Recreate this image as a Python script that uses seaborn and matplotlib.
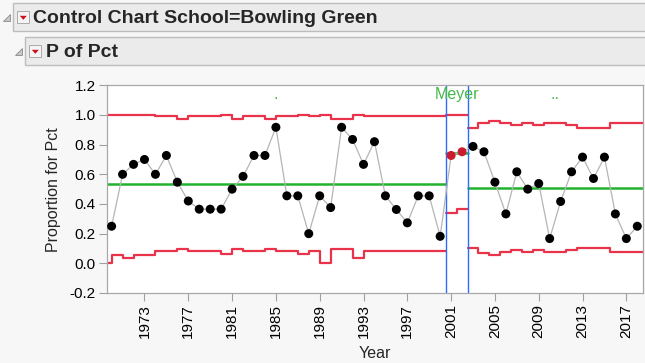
import matplotlib
matplotlib.use("Agg")
import matplotlib.pyplot as plt
from matplotlib.patches import Rectangle, Polygon
import pandas as pd
import seaborn as sns

# data
years = list(range(1970, 2019))
pct = [0.25, 0.60, 0.667, 0.70, 0.60, 0.727, 0.547, 0.42, 0.365, 0.365, 0.365, 0.50, 0.586, 0.727,
       0.727, 0.917, 0.455, 0.455, 0.20, 0.455, 0.376, 0.917, 0.835, 0.667, 0.82, 0.455, 0.363,
       0.273, 0.455, 0.455, 0.182,
       0.727, 0.752,
       0.788, 0.752, 0.547, 0.333, 0.617, 0.50, 0.538, 0.167, 0.417, 0.617, 0.716, 0.572, 0.716,
       0.333, 0.167, 0.25]
phase = ["."] * 31 + ["Meyer"] * 2 + [".."] * 16
phase_names = [".", "Meyer", ".."]
center = [0.536, 0.743, 0.509]

lcl = [0.0, 0.056, 0.035, 0.056, 0.056, 0.082, 0.082, 0.096, 0.082, 0.082, 0.082, 0.06, 0.096,
       0.082, 0.082, 0.096, 0.082, 0.082, 0.06, 0.082, 0.0, 0.096, 0.096, 0.038,
       0.082, 0.082, 0.082, 0.082, 0.082, 0.082, 0.082,
       0.34, 0.363,
       0.103, 0.072, 0.059, 0.076, 0.09, 0.076, 0.09, 0.076, 0.076, 0.09, 0.103, 0.103, 0.103,
       0.076, 0.076, 0.076]
ucl = [1.0, 1.0, 1.0, 1.0, 1.0, 0.99, 0.99, 0.975, 0.99, 0.99, 0.99, 1.0, 0.975,
       0.99, 0.99, 0.975, 0.99, 0.99, 1.0, 0.99, 1.0, 0.975, 0.975, 1.0,
       0.99, 0.99, 0.99, 0.99, 0.99, 0.99, 0.99,
       1.0, 1.0,
       0.914, 0.944, 0.96, 0.944, 0.93, 0.944, 0.93, 0.944, 0.944, 0.93, 0.914, 0.914, 0.914,
       0.944, 0.944, 0.944]
flagged = [2001, 2002]

df = pd.DataFrame({"Year": years, "Pct": pct, "phase": phase, "LCL": lcl, "UCL": ucl})

W, H = 645, 363
XMIN, XMAX = 1969.55, 2018.55
RED = "#E8334A"
GREEN = "#22B22E"
BLUE = "#2B6BFF"
BG = "#F7F7F7"

sns.set_style("white")
plt.rcParams["font.family"] = ["Liberation Sans", "DejaVu Sans"]

fig = plt.figure(figsize=(W / 100, H / 100), dpi=100, facecolor=BG)
ax = fig.add_axes([106.7 / W, 1 - 293 / H, (643.3 - 106.7) / W, (293 - 85.3) / H])
ax.set_facecolor("white")


def px(x, y):
    return x / W, 1 - y / H


# phase edges: half way between phases, axis ends outside
bounds = []
for i, name in enumerate(phase_names):
    sub = df[df["phase"] == name]
    lo = XMIN if i == 0 else (bounds[-1][1])
    hi = XMAX if i == len(phase_names) - 1 else sub["Year"].max() + 0.5
    bounds.append((lo, hi))

for i, name in enumerate(phase_names):
    sub = df[df["phase"] == name]
    lo, hi = bounds[i]
    xs = [lo] + sub["Year"].tolist() + [hi]
    # first phase steps change at the points, later ones half way between
    style = "steps-pre" if i == 0 else "steps-mid"
    for col in ["LCL", "UCL"]:
        vals = sub[col].tolist()
        ys = [vals[0]] + vals + [vals[-1]]
        sns.lineplot(x=xs, y=ys, ax=ax, color=RED, lw=1.6, drawstyle=style,
                     sort=False, estimator=None)
    sns.lineplot(x=[lo, hi], y=[center[i], center[i]], ax=ax, color=GREEN, lw=1.8,
                 sort=False, estimator=None)
    ax.text((lo + hi) / 2, 1.105, name, color="#44B84A", fontsize=11.5, ha="center",
            va="baseline")
    if i > 0:
        ax.axvline(lo, color=BLUE, lw=1.0)

sns.lineplot(data=df, x="Year", y="Pct", ax=ax, color="#B5B5B5", lw=0.9,
             sort=False, estimator=None)
sns.scatterplot(data=df[~df["Year"].isin(flagged)], x="Year", y="Pct", ax=ax,
                color="black", s=42, edgecolor="none", zorder=5)
sns.scatterplot(data=df[df["Year"].isin(flagged)], x="Year", y="Pct", ax=ax,
                color="#CC1B30", s=42, edgecolor="none", zorder=5)

ax.set_xlim(XMIN, XMAX)
ax.set_ylim(-0.2, 1.2)
ax.set_yticks([-0.2, 0.0, 0.2, 0.4, 0.6, 0.8, 1.0, 1.2])
ax.set_yticklabels([f"{v:.1f}" for v in ax.get_yticks()])
ax.set_xticks(list(range(1973, 2019, 4)))
ax.tick_params(axis="x", labelrotation=90)
ax.tick_params(direction="out", length=6, width=0.8, color="#A0A0A0",
               labelsize=11, labelcolor="black", pad=2, left=True, bottom=True)
for sp in ax.spines.values():
    sp.set_color("#A8A8A8")
    sp.set_linewidth(0.9)
ax.set_xlabel("Year", fontsize=11.5, labelpad=6)
ax.set_ylabel("Proportion for Pct", fontsize=11.5, labelpad=6)

# report headers
for (x0, y0, y1, title, tx) in [(13.3, 3.3, 31.3, "Control Chart School=Bowling Green", 33),
                                (25.3, 37.3, 65.3, "P of Pct", 46)]:
    fig.add_artist(Rectangle(px(x0, y1), (W + 5 - x0) / W, (y1 - y0) / H,
                             transform=fig.transFigure, facecolor="#EBEBEB",
                             edgecolor="#BDBDBD", lw=1.0))
    ym = (y0 + y1) / 2
    # disclosure triangle
    fig.add_artist(Polygon([px(x0 - 10, ym + 3.5), px(x0 - 3.5, ym + 3.5), px(x0 - 3.5, ym - 3)],
                           closed=True, transform=fig.transFigure, facecolor="#C8C8C8",
                           edgecolor="#8A8A8A", lw=0.6))
    # red menu button
    bx = x0 + 4
    fig.add_artist(Rectangle(px(bx, ym + 6), 12 / W, 12 / H, transform=fig.transFigure,
                             facecolor="#F4F4F4", edgecolor="#A0A0A0", lw=0.6))
    fig.add_artist(Polygon([px(bx + 2.5, ym - 1.5), px(bx + 9.5, ym - 1.5), px(bx + 6, ym + 2.5)],
                           closed=True, transform=fig.transFigure, facecolor="#D0101C",
                           edgecolor="none"))
    fig.text(*px(tx, ym + 1), title, fontsize=14, fontweight="bold", va="center", ha="left")

fig.savefig("out.png", dpi=100, facecolor=BG)
